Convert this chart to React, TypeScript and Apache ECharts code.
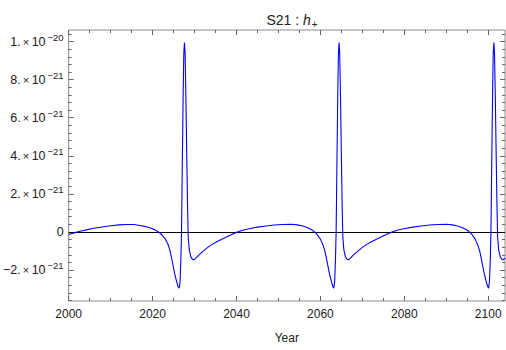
import React, { useEffect, useRef } from 'react';
import * as echarts from 'echarts';

// h+ strain, values in units of 1e-21
const cycle1: [number, number][] = [
  [2000.0, -0.14], [2001.0, -0.07], [2002.0, -0.01], [2003.0, 0.05], [2004.5, 0.12],
  [2006.0, 0.19], [2008.0, 0.26], [2010.0, 0.32], [2012.0, 0.37], [2014.0, 0.39],
  [2015.5, 0.39], [2017.0, 0.34], [2018.3, 0.28], [2019.5, 0.21], [2020.5, 0.12],
  [2021.4, 0.0], [2022.2, -0.15], [2023.0, -0.36], [2023.7, -0.66], [2024.2, -1.02],
  [2024.6, -1.45], [2025.0, -1.9], [2025.4, -2.32], [2025.8, -2.66], [2026.1, -2.88],
  [2026.35, -2.96], [2026.55, -2.6], [2026.75, -1.4], [2026.9, 0.0], [2027.1, 3.8],
  [2027.3, 7.4], [2027.45, 9.4], [2027.6, 9.95], [2027.75, 9.4], [2027.95, 7.0],
  [2028.15, 4.0], [2028.35, 1.2], [2028.5, -0.3], [2028.75, -0.95], [2029.1, -1.3],
  [2029.5, -1.44], [2029.8, -1.47], [2030.3, -1.38], [2031.0, -1.22], [2032.0, -1.02],
  [2033.0, -0.84], [2034.0, -0.68], [2035.3, -0.52], [2036.5, -0.38], [2037.7, -0.26],
  [2039.0, -0.12], [2040.2, 0.0], [2041.7, 0.1], [2043.3, 0.18], [2045.0, 0.25],
];
const cycle2: [number, number][] = [
  [2047.0, 0.31], [2049.0, 0.36], [2051.0, 0.39], [2053.0, 0.4], [2054.5, 0.37],
  [2055.8, 0.31], [2057.0, 0.22], [2058.0, 0.1], [2058.6, 0.0], [2059.3, -0.16],
  [2060.0, -0.38], [2060.6, -0.68], [2061.1, -1.03], [2061.5, -1.46], [2061.9, -1.92],
  [2062.3, -2.33], [2062.7, -2.67], [2063.0, -2.88], [2063.2, -2.96], [2063.4, -2.6],
  [2063.6, -1.4], [2063.75, 0.0], [2063.95, 3.8], [2064.15, 7.4], [2064.3, 9.4],
  [2064.45, 9.95], [2064.6, 9.4], [2064.8, 7.0], [2065.0, 4.0], [2065.2, 1.2],
  [2065.35, -0.3], [2065.6, -0.95], [2065.95, -1.3], [2066.35, -1.44], [2066.65, -1.47],
  [2067.15, -1.38], [2067.85, -1.22], [2068.85, -1.02], [2069.85, -0.84], [2070.85, -0.68],
  [2072.15, -0.52], [2073.35, -0.38], [2074.55, -0.26], [2075.85, -0.12], [2077.05, 0.0],
  [2078.5, 0.1], [2080.2, 0.18], [2082.0, 0.25],
];
const cycle3: [number, number][] = [
  [2084.0, 0.31], [2086.0, 0.36], [2088.0, 0.39], [2090.0, 0.4], [2091.5, 0.37],
  [2092.7, 0.31], [2093.9, 0.22], [2094.9, 0.1], [2095.5, 0.0], [2096.2, -0.16],
  [2096.9, -0.38], [2097.5, -0.68], [2098.0, -1.03], [2098.4, -1.46], [2098.8, -1.92],
  [2099.2, -2.33], [2099.6, -2.67], [2099.9, -2.88], [2100.1, -2.96], [2100.3, -2.6],
  [2100.5, -1.4], [2100.65, 0.0], [2100.85, 3.8], [2101.05, 7.4], [2101.2, 9.4],
  [2101.35, 9.95], [2101.5, 9.4], [2101.7, 7.0], [2101.9, 4.0], [2102.1, 1.2],
  [2102.25, -0.3], [2102.5, -0.95], [2102.85, -1.3], [2103.25, -1.44], [2103.55, -1.47],
  [2104.05, -1.38],
];

const xMajorTicks = [2000, 2020, 2040, 2060, 2080, 2100];
const xMinorTicks = [2005, 2010, 2015, 2025, 2030, 2035, 2045, 2050, 2055, 2065, 2070, 2075, 2085, 2090, 2095];
const yMajorTicks = [-2, 0, 2, 4, 6, 8, 10];
const yMinorTicks = [-3.6, -3.2, -2.8, -2.4, -1.6, -1.2, -0.8, -0.4, 0.4, 0.8, 1.2, 1.6, 2.4, 2.8, 3.2, 3.6,
  4.4, 4.8, 5.2, 5.6, 6.4, 6.8, 7.2, 7.6, 8.4, 8.8, 9.2, 9.6, 10.4];

const X_MIN = 2000;
const X_MAX = 2104;
const Y_MIN = -3.63;
const Y_MAX = 10.61;

const FONT = 'Liberation Sans, Arial, sans-serif';
const TICK_COLOR = '#666';
const TEXT = '#222';

function yLabel(v: number): string {
  if (Math.abs(v) < 1e-9) return '{m|0}';
  const e = Math.floor(Math.log10(Math.abs(v)) + 1e-9);
  const mant = Math.round(v / Math.pow(10, e));
  const sign = mant < 0 ? '\u2212' : '';
  return `{m|${sign}${Math.abs(mant)}.}{x|\u00d7}{m|10}{e|\u2212${21 - e}}`;
}

export default function App() {
  const ref = useRef<HTMLDivElement>(null);
  useEffect(() => {
    if (!ref.current) return;
    const chart = echarts.init(ref.current, null, { renderer: 'svg' });
    const xAxisBase = (pos: 'bottom' | 'top', values: number[], len: number, labels: boolean) => ({
      type: 'value',
      position: pos,
      min: X_MIN,
      max: X_MAX,
      axisLine: { show: false, onZero: false },
      splitLine: { show: false },
      axisTick: { show: true, inside: true, length: len, customValues: values, lineStyle: { color: TICK_COLOR, width: 1 } },
      axisLabel: labels
        ? {
            show: true,
            customValues: values,
            margin: 7,
            color: TEXT,
            fontSize: 12,
            fontFamily: FONT,
            formatter: (v: number) => String(Math.round(v)),
          }
        : { show: false },
    });
    const yAxisBase = (pos: 'left' | 'right', values: number[], len: number, labels: boolean) => ({
      type: 'value',
      position: pos,
      min: Y_MIN,
      max: Y_MAX,
      axisLine: { show: false, onZero: false },
      splitLine: { show: false },
      axisTick: { show: true, inside: true, length: len, customValues: values, lineStyle: { color: TICK_COLOR, width: 1 } },
      axisLabel: labels
        ? {
            show: true,
            customValues: values,
            margin: 5,
            color: TEXT,
            fontSize: 12,
            fontFamily: FONT,
            formatter: yLabel,
            rich: {
              m: { fontSize: 12.5, fontFamily: FONT, color: TEXT },
              x: { fontSize: 11, fontFamily: FONT, color: TEXT, padding: [0, 2.5, 0, 2] },
              e: { fontSize: 9.5, fontFamily: FONT, color: TEXT, padding: [0, 0, 9, 2] },
            },
          }
        : { show: false },
    });
    chart.setOption({
      animation: false,
      backgroundColor: '#fff',
      title: {
        text: '{n|S21 : }{i|h}{s|+}',
        left: 287,
        top: 5,
        textAlign: 'center',
        textStyle: {
          fontWeight: 'normal',
          rich: {
            n: { fontSize: 14, fontFamily: FONT, color: TEXT, fontWeight: 'normal' },
            i: { fontSize: 14, fontFamily: FONT, fontStyle: 'italic', color: TEXT, fontWeight: 'normal' },
            s: { fontSize: 10, fontFamily: FONT, color: TEXT, fontWeight: 'normal', padding: [9, 0, 0, 1] },
          },
        },
      },
      grid: {
        left: 68,
        right: 1,
        top: 30,
        bottom: 49,
        show: true,
        borderColor: '#8c8c8c',
        borderWidth: 1,
        backgroundColor: 'transparent',
      },
      xAxis: [
        {
          ...xAxisBase('bottom', xMajorTicks, 5, true),
          name: 'Year',
          nameLocation: 'middle',
          nameGap: 31,
          nameTextStyle: { fontSize: 12, fontFamily: FONT, color: TEXT },
        },
        xAxisBase('bottom', xMinorTicks, 3, false),
        xAxisBase('top', xMajorTicks, 5, false),
        xAxisBase('top', xMinorTicks, 3, false),
      ],
      yAxis: [
        yAxisBase('left', yMajorTicks, 5, true),
        yAxisBase('left', yMinorTicks, 3, false),
        yAxisBase('right', yMajorTicks, 5, false),
        yAxisBase('right', yMinorTicks, 3, false),
      ],
      series: [
        {
          type: 'line',
          xAxisIndex: 0,
          yAxisIndex: 0,
          data: [...cycle1, ...cycle2, ...cycle3],
          showSymbol: false,
          symbol: 'none',
          lineStyle: { color: '#0000ff', width: 1.1 },
          clip: true,
          z: 3,
          markLine: {
            silent: true,
            symbol: ['none', 'none'],
            label: { show: false },
            lineStyle: { color: '#000', width: 1, type: 'solid' },
            data: [{ yAxis: 0 }],
            z: 2,
          },
        },
      ],
    });
    return () => chart.dispose();
  }, []);
  return (
    <div
      ref={ref}
      style={{ position: 'fixed', left: 0, top: 0, width: 506, height: 350, background: '#fff' }}
    />
  );
}
